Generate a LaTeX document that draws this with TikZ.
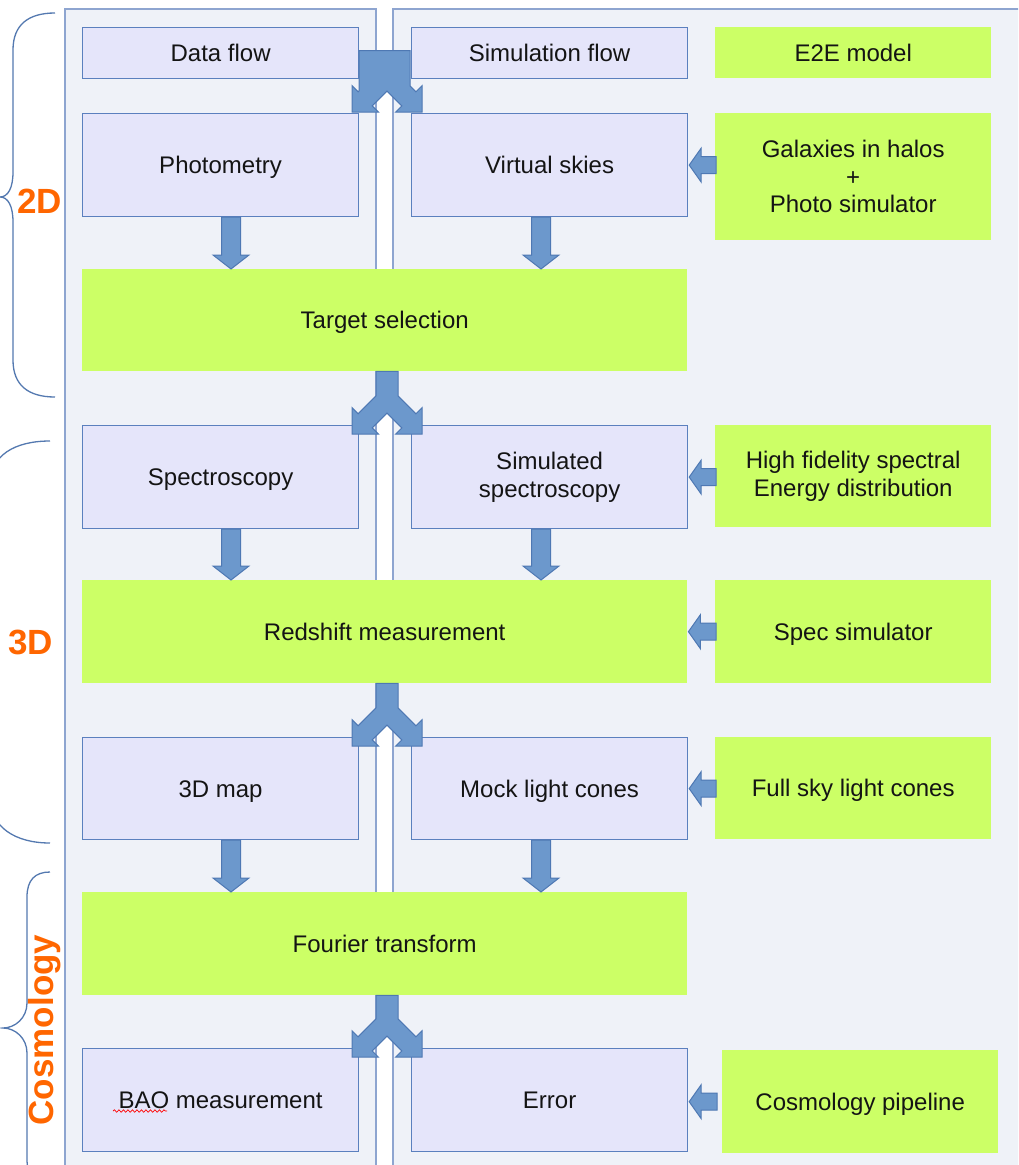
\documentclass[tikz,border=0pt]{standalone}
\usepackage{fontspec}
\setmainfont{Liberation Sans}
\usetikzlibrary{calc,decorations.pathmorphing}
\definecolor{panelf}{HTML}{EFF2F8}
\definecolor{paneld}{HTML}{8EA5D0}
\definecolor{lavf}{HTML}{E5E5FA}
\definecolor{lavd}{HTML}{5B80BE}
\definecolor{grn}{HTML}{CCFF66}
\definecolor{arrf}{HTML}{6C98CC}
\definecolor{arrd}{HTML}{4E78B3}
\definecolor{orng}{HTML}{FF6600}
\definecolor{brc}{HTML}{5479B0}
\definecolor{txt}{HTML}{141414}
% down block arrow: #1 start coord, #2 end (tip) coord
\newcommand\dnarr[2]{%
\draw[blk] ([xshift=-9.5pt]#1) -- ([xshift=9.5pt]#1) -- ([xshift=9.5pt,yshift=14pt]#2) -- ([xshift=18pt,yshift=14pt]#2) -- (#2) -- ([xshift=-18pt,yshift=14pt]#2) -- ([xshift=-9.5pt,yshift=14pt]#2) -- cycle;}
% left block arrow: #1 start coord (right end), #2 tip coord
\newcommand\lfarr[2]{%
\draw[blk] ([yshift=8.5pt]#1) -- ([xshift=12pt,yshift=8.5pt]#2) -- ([xshift=12pt,yshift=17pt]#2) -- (#2) -- ([xshift=12pt,yshift=-17pt]#2) -- ([xshift=12pt,yshift=-8.5pt]#2) -- ([yshift=-8.5pt]#1) -- cycle;}
% split block arrow: #1 stem top, #2 tip line centre, #3/#4 left/right stem half widths, #5/#6 left/right join heights
\newcommand\splitarr[6]{%
\draw[blk] ([xshift=-#3pt]#1) -- ([xshift=#4pt]#1) -- ([xshift=#4pt,yshift=#6pt]#2) -- ([xshift=28.9pt,yshift=20.2pt]#2) -- ([xshift=35pt,yshift=26.3pt]#2) -- ([xshift=35pt]#2) -- ([xshift=8.7pt]#2) -- ([xshift=14.8pt,yshift=6.1pt]#2) -- ([yshift=20.9pt]#2) -- ([xshift=-14.8pt,yshift=6.1pt]#2) -- ([xshift=-8.7pt]#2) -- ([xshift=-35pt]#2) -- ([xshift=-35pt,yshift=26.3pt]#2) -- ([xshift=-28.9pt,yshift=20.2pt]#2) -- ([xshift=-#3pt,yshift=#5pt]#2) -- cycle;}
\begin{document}
\begin{tikzpicture}[x=1pt,y=-1pt,
 basebox/.style={inner sep=0pt, anchor=north west, align=center, text=txt, font=\fontsize{24}{27.5}\selectfont, minimum width=276pt, minimum height=103pt},
 lav/.style={basebox, draw=lavd, fill=lavf, line width=1.2pt},
 grnbox/.style={basebox, fill=grn},
 oneline/.style={text height=17.2pt, text depth=0pt},
 blk/.style={fill=arrf, draw=arrd, line width=1pt, line join=miter},
 panelbox/.style={fill=panelf, draw=paneld, line width=1.5pt},
 lbl/.style={text=orng, font=\fontsize{35}{40}\selectfont\bfseries, inner sep=0pt, text height=25pt, text depth=0pt},
 bracel/.style={draw=brc, line width=1.3pt}]
\clip (0,0) rectangle (1018,1165);
\fill[white] (0,0) rectangle (1018,1165);
\draw[panelbox] (65,9) rectangle (376,1200);
\draw[panelbox] (393,9) rectangle (1040,1200);

% header row
\node[lav, oneline, minimum height=51pt] (df) at (82,27) {Data flow};
\node[lav, oneline, minimum height=51pt] (sf) at (411,27) {Simulation flow};
\node[grnbox, oneline, minimum height=51pt] (e2e) at (715,27) {E2E model};
% row 1
\node[lav, oneline] (pho) at (82,113) {Photometry};
\node[lav, oneline] (vs) at (411,113) {Virtual skies};
\node[grnbox, minimum height=127pt] (gal) at (715,113) {Galaxies in halos\\+\\Photo simulator};
\node[grnbox, oneline, minimum width=605pt, minimum height=102pt] (ts) at (82,269) {Target selection};
% row 2
\node[lav, oneline] (spc) at (82,425) {Spectroscopy};
\node[lav] (ssp) at (411,425) {Simulated\\spectroscopy};
\node[grnbox, minimum height=102pt] (hf) at (715,425) {High fidelity spectral\\Energy distribution};
\node[grnbox, oneline, minimum width=605pt] (rs) at (82,580) {Redshift measurement};
\node[grnbox, oneline] (ssim) at (715,580) {Spec simulator};
% row 3
\node[lav, oneline, minimum height=102pt] (map) at (82,737) {3D map};
\node[lav, oneline, minimum height=102pt] (mlc) at (411,737) {Mock light cones};
\node[grnbox, oneline, minimum height=102pt] (fsl) at (715,737) {Full sky light cones};
\node[grnbox, oneline, minimum width=605pt] (ft) at (82,892) {Fourier transform};
% row 4
\node[lav, oneline] (bao) at (82,1048) {BAO measurement};
\node[lav, oneline] (err) at (411,1048) {Error};
\node[grnbox, oneline] (cp) at (722,1050) {Cosmology pipeline};
\draw[red, line width=0.7pt, decorate, decoration={snake, amplitude=1.2pt, segment length=4.5pt}] (113,1111) -- (167,1111);

% down arrows
\coordinate (d1s) at (231,0 |- pho.south); \coordinate (d1e) at (231,0 |- ts.north);
\coordinate (d2s) at (541,0 |- vs.south);  \coordinate (d2e) at (541,0 |- ts.north);
\coordinate (d3s) at (231,0 |- spc.south); \coordinate (d3e) at (231,0 |- rs.north);
\coordinate (d4s) at (541,0 |- ssp.south); \coordinate (d4e) at (541,0 |- rs.north);
\coordinate (d5s) at (231,0 |- map.south); \coordinate (d5e) at (231,0 |- ft.north);
\coordinate (d6s) at (541,0 |- mlc.south); \coordinate (d6e) at (541,0 |- ft.north);
\dnarr{d1s}{d1e}\dnarr{d2s}{d2e}\dnarr{d3s}{d3e}\dnarr{d4s}{d4e}\dnarr{d5s}{d5e}\dnarr{d6s}{d6e}

% left arrows
\coordinate (l1s) at (716,0 |- vs.east);  \coordinate (l1e) at ([xshift=1pt]vs.east);
\coordinate (l2s) at (716,0 |- ssp.east); \coordinate (l2e) at ([xshift=1pt]ssp.east);
\coordinate (l3s) at (716,0 |- rs.east);  \coordinate (l3e) at ([xshift=1pt]rs.east);
\coordinate (l4s) at (716,0 |- mlc.east); \coordinate (l4e) at ([xshift=1pt]mlc.east);
\coordinate (l5s) at (717,0 |- cp.west);  \coordinate (l5e) at ([xshift=1pt]err.east |- cp.west);
\lfarr{l1s}{l1e}\lfarr{l2s}{l2e}\lfarr{l3s}{l3e}\lfarr{l4s}{l4e}\lfarr{l5s}{l5e}

% split arrows
\coordinate (s0u) at ([yshift=2.5pt]387,0 |- df.east); \coordinate (s0t) at ([yshift=1pt]387,0 |- pho.north);
\coordinate (s1u) at (387,0 |- ts.south); \coordinate (s1t) at ([yshift=-9pt]387,0 |- spc.north);
\coordinate (s2u) at (387,0 |- rs.south); \coordinate (s2t) at ([yshift=-9pt]387,0 |- map.north);
\coordinate (s3u) at (387,0 |- ft.south); \coordinate (s3t) at ([yshift=-9pt]387,0 |- bao.north);
\splitarr{s0u}{s0t}{28}{23}{21.1}{26.1}
\splitarr{s1u}{s1t}{11}{11}{38.1}{38.1}
\splitarr{s2u}{s2t}{11}{11}{38.1}{38.1}
\splitarr{s3u}{s3t}{11}{11}{38.1}{38.1}

% side labels
\node[lbl] (l2d) at (39.5,200.5) {2D};
\node[lbl] (l3d) at (30.5,641.5) {3D};
\node[lbl, rotate=90] (lcos) at (40.5,1030) {Cosmology};

% braces
\draw[bracel] (55,13) .. controls (28,13) and (13,25) .. (13,50) -- (13,172) .. controls (13,188) and (8,197) .. (0,197) .. controls (8,197) and (13,206) .. (13,222) -- (13,360) .. controls (13,385) and (28,397) .. (55,397);
\draw[bracel] (50,441) .. controls (15,441) and (-10,455) .. (-10,485) -- (-10,615) .. controls (-10,632) and (-15,641) .. (-23,641) .. controls (-15,641) and (-10,650) .. (-10,667) -- (-10,797) .. controls (-10,827) and (15,843) .. (50,843);
\draw[bracel] (50,872) .. controls (35,872) and (27,880) .. (27,897) -- (27,1003) .. controls (27,1018) and (15,1028) .. (3,1028) .. controls (15,1028) and (27,1038) .. (27,1053) -- (27,1159) .. controls (27,1176) and (35,1184) .. (50,1184);
\end{tikzpicture}
\end{document}
